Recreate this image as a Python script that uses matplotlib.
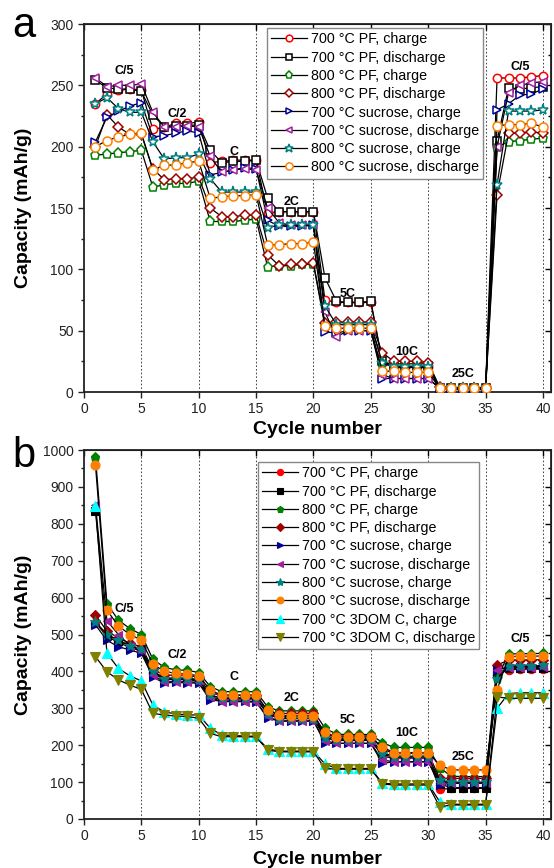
import matplotlib
matplotlib.use("Agg")
import matplotlib.pyplot as plt
from matplotlib.ticker import MultipleLocator
import numpy as np

plt.rcParams['font.family'] = ['Liberation Sans', 'DejaVu Sans']

cycles = list(range(1, 41))

# ---------------- Panel a data ----------------
a_labels = ["700 °C PF, charge", "700 °C PF, discharge", "800 °C PF, charge",
            "800 °C PF, discharge", "700 °C sucrose, charge", "700 °C sucrose, discharge",
            "800 °C sucrose, charge", "800 °C sucrose, discharge"]

a_700pf_ch = [235, 243, 246, 247, 246, 214, 216, 219, 219, 220,
              187, 188, 189, 189, 189, 146, 147, 147, 147, 147,
              75, 73, 73, 73, 73, 24, 20, 20, 20, 20,
              3, 3, 3, 3, 3, 256, 256, 256, 257, 258]
a_700pf_dis = [254, 248, 247, 247, 245, 226, 216, 217, 217, 218,
               197, 187, 188, 188, 189, 158, 147, 147, 147, 147,
               93, 74, 73, 73, 74, 25, 21, 21, 21, 21,
               3, 3, 3, 3, 3, 205, 248, 247, 248, 249]
a_800pf_ch = [193, 194, 195, 196, 197, 167, 169, 170, 170, 172,
              139, 139, 139, 140, 141, 102, 103, 103, 104, 104,
              54, 55, 55, 55, 55, 24, 23, 23, 23, 23,
              3, 3, 3, 3, 3, 200, 204, 205, 206, 207]
a_800pf_dis = [200, 226, 216, 210, 210, 182, 173, 174, 174, 175,
               150, 143, 143, 144, 144, 112, 103, 104, 104, 105,
               56, 57, 57, 57, 57, 32, 25, 25, 25, 24,
               4, 3, 3, 3, 3, 161, 211, 211, 212, 211]
a_700su_ch = [204, 224, 229, 233, 236, 208, 209, 211, 213, 211,
              177, 179, 181, 183, 182, 140, 135, 135, 135, 136,
              49, 48, 50, 50, 50, 11, 11, 11, 11, 11,
              3, 2, 2, 2, 2, 230, 235, 242, 243, 247]
a_700su_dis = [256, 249, 250, 250, 251, 228, 216, 216, 217, 216,
               192, 179, 181, 182, 181, 150, 138, 136, 136, 136,
               65, 45, 50, 50, 50, 14, 11, 11, 11, 11,
               3, 2, 2, 2, 2, 200, 244, 250, 252, 253]
a_800su_ch = [235, 240, 231, 228, 228, 204, 190, 191, 191, 194,
              174, 163, 163, 163, 163, 134, 136, 136, 136, 136,
              70, 55, 55, 55, 55, 24, 20, 20, 20, 20,
              3, 3, 3, 3, 3, 169, 229, 229, 229, 230]
a_800su_dis = [200, 205, 208, 210, 211, 181, 185, 185, 187, 188,
               158, 159, 160, 160, 161, 120, 120, 121, 121, 122,
               54, 52, 52, 52, 52, 17, 17, 16, 16, 16,
               3, 3, 3, 3, 3, 217, 218, 218, 219, 216]

# ---------------- Panel b data ----------------
b_labels = ["700 °C PF, charge", "700 °C PF, discharge", "800 °C PF, charge",
            "800 °C PF, discharge", "700 °C sucrose, charge", "700 °C sucrose, discharge",
            "800 °C sucrose, charge", "800 °C sucrose, discharge",
            "700 °C 3DOM C, charge", "700 °C 3DOM C, discharge"]

b_700pf_ch = [532, 495, 478, 465, 455, 395, 378, 378, 378, 373,
              330, 325, 325, 325, 325, 285, 275, 275, 275, 275,
              220, 215, 215, 215, 215, 170, 165, 165, 165, 165,
              80, 83, 83, 83, 83, 390, 405, 406, 406, 406]
b_700pf_dis = [835, 500, 482, 470, 460, 400, 382, 382, 382, 378,
               335, 328, 328, 328, 328, 288, 278, 278, 278, 278,
               225, 218, 218, 218, 218, 180, 170, 170, 170, 170,
               95, 85, 85, 85, 85, 395, 408, 408, 408, 408]
b_800pf_ch = [982, 583, 539, 516, 500, 433, 411, 404, 403, 397,
              359, 345, 345, 345, 345, 304, 293, 293, 293, 293,
              246, 230, 229, 229, 229, 207, 194, 194, 194, 194,
              139, 116, 115, 115, 115, 381, 447, 448, 448, 449]
b_800pf_dis = [553, 509, 491, 476, 467, 406, 390, 390, 390, 384,
               341, 336, 336, 336, 336, 293, 286, 286, 286, 286,
               228, 225, 225, 225, 225, 189, 178, 178, 178, 178,
               110, 110, 110, 110, 110, 417, 431, 431, 431, 432]
b_700su_ch = [526, 484, 467, 458, 449, 384, 369, 370, 369, 368,
              322, 320, 320, 320, 318, 273, 266, 266, 266, 266,
              205, 205, 205, 205, 205, 151, 155, 155, 155, 155,
              92, 97, 97, 97, 97, 404, 413, 413, 413, 414]
b_700su_dis = [851, 537, 500, 470, 455, 390, 372, 372, 372, 370,
               330, 318, 318, 318, 316, 278, 265, 265, 265, 265,
               212, 205, 205, 205, 205, 160, 155, 155, 155, 155,
               100, 97, 97, 97, 97, 405, 410, 410, 410, 411]
b_800su_ch = [535, 500, 485, 470, 460, 400, 380, 380, 380, 376,
              335, 328, 328, 328, 328, 285, 272, 272, 272, 272,
              220, 213, 213, 213, 213, 175, 168, 168, 168, 168,
              105, 100, 100, 100, 100, 380, 415, 415, 415, 416]
b_800su_dis = [959, 566, 523, 500, 485, 420, 400, 395, 393, 388,
               350, 335, 335, 335, 335, 295, 281, 280, 280, 280,
               235, 222, 222, 222, 222, 195, 180, 180, 180, 180,
               146, 133, 133, 133, 133, 350, 440, 441, 441, 442]
b_3dom_ch = [848, 449, 408, 388, 374, 309, 290, 285, 282, 282,
             246, 228, 226, 225, 224, 190, 184, 184, 184, 184,
             149, 137, 137, 137, 137, 97, 95, 95, 95, 95,
             47, 40, 40, 40, 40, 300, 340, 342, 342, 342]
b_3dom_dis = [440, 399, 377, 363, 351, 286, 282, 279, 278, 273,
              232, 223, 223, 223, 222, 187, 182, 182, 182, 182,
              137, 135, 135, 135, 135, 95, 92, 92, 92, 92,
              33, 38, 38, 38, 38, 331, 327, 327, 327, 327]

rate_labels = ["C/5", "C/2", "C", "2C", "5C", "10C", "25C", "C/5"]
rate_x = [3.5, 8.1, 13.1, 18.1, 23.0, 28.1, 33.0, 38.0]
rate_y_a = [262, 227, 196, 155, 80, 33, 15, 265]
rate_y_b = [569, 444, 385, 328, 267, 233, 168, 488]

colors = ['#FF0000', '#000000', '#008000', '#A00000', '#000099', '#A020A0',
          '#008080', '#FF8000', '#00FFFF', '#808000']
markers = ['o', 's', 'p', 'D', '>', '<', '*', 'o', '^', 'v']
msizes = [6, 5.5, 6.5, 5, 6, 6, 8, 6.5, 7, 7]

W, H = 554, 868
fig = plt.figure(figsize=(W / 100, H / 100), dpi=100)

def style_axes(ax, ymax, ymajor, yminor):
    ax.set_xlim(0, 40.7)
    ax.set_ylim(0, ymax)
    ax.xaxis.set_major_locator(MultipleLocator(5))
    ax.yaxis.set_major_locator(MultipleLocator(ymajor))
    ax.yaxis.set_minor_locator(MultipleLocator(yminor))
    ax.tick_params(axis='both', which='both', direction='out', labelsize=10,
                   top=False, right=False, width=1.0, colors='#222222', labelcolor='#222222')
    ax.tick_params(which='major', length=4)
    ax.tick_params(which='minor', length=2.5)
    for s in ax.spines.values():
        s.set_linewidth(1.3)
        s.set_color('#222222')
    sx = ax.secondary_xaxis('top')
    sx.xaxis.set_major_locator(MultipleLocator(5))
    sx.tick_params(direction='in', length=4, labeltop=False, width=1.0)
    sy = ax.secondary_yaxis('right')
    sy.yaxis.set_major_locator(MultipleLocator(ymajor))
    sy.yaxis.set_minor_locator(MultipleLocator(yminor))
    sy.tick_params(which='both', direction='in', labelright=False, width=1.0)
    sy.tick_params(which='major', length=4)
    sy.tick_params(which='minor', length=2.5)
    for xv in range(5, 41, 5):
        ax.axvline(xv, color='#444444', linestyle=(0, (1.5, 2)), linewidth=0.75, zorder=0)
    ax.set_xlabel("Cycle number", fontsize=14, fontweight='bold')
    ax.set_ylabel("Capacity (mAh/g)", fontsize=14, fontweight='bold')

# ---------- Panel a ----------
axa = fig.add_axes([84 / W, 1 - 392 / H, 467 / W, 368 / H])
style_axes(axa, 300, 50, 25)
a_series = [a_700pf_ch, a_700pf_dis, a_800pf_ch, a_800pf_dis,
            a_700su_ch, a_700su_dis, a_800su_ch, a_800su_dis]
for i, (ys, lab) in enumerate(zip(a_series, a_labels)):
    axa.plot(cycles, ys, color='black', linewidth=0.9, marker=markers[i],
             markersize=msizes[i], markerfacecolor='white', markeredgecolor=colors[i],
             markeredgewidth=1.1, label=lab, zorder=2 + i)
for t, xv, yv in zip(rate_labels, rate_x, rate_y_a):
    axa.text(xv, yv, t, fontsize=9, fontweight='bold', ha='center', va='center', zorder=20)
leg = axa.legend(loc='upper left', bbox_to_anchor=(0.392, 0.989), borderaxespad=0,
                 fontsize=10.3, frameon=True, fancybox=False, edgecolor='#888888',
                 framealpha=1, handlelength=2.5, handletextpad=0.25, labelspacing=0.3,
                 borderpad=0.3, markerscale=0.8)
leg.get_frame().set_linewidth(1.0)
leg.set_zorder(30)
axa.yaxis.set_label_coords(-0.111, 0.5)
axa.xaxis.set_label_coords(0.5, -0.079)
fig.text(12 / W, 1 - 37 / H, "a", fontsize=30, ha='left', va='baseline')

# ---------- Panel b ----------
axb = fig.add_axes([84 / W, 1 - 819 / H, 467 / W, 369 / H])
style_axes(axb, 1000, 100, 50)
b_series = [b_700pf_ch, b_700pf_dis, b_800pf_ch, b_800pf_dis, b_700su_ch,
            b_700su_dis, b_800su_ch, b_800su_dis, b_3dom_ch, b_3dom_dis]
for i, (ys, lab) in enumerate(zip(b_series, b_labels)):
    axb.plot(cycles, ys, color='black', linewidth=0.9, marker=markers[i],
             markersize=msizes[i], markerfacecolor=colors[i], markeredgecolor=colors[i],
             markeredgewidth=0.8, label=lab, zorder=2 + i)
for t, xv, yv in zip(rate_labels, rate_x, rate_y_b):
    axb.text(xv, yv, t, fontsize=9, fontweight='bold', ha='center', va='center', zorder=20)
legb = axb.legend(loc='upper left', bbox_to_anchor=(0.3726, 0.9675), borderaxespad=0,
                  fontsize=10.3, frameon=True, fancybox=False, edgecolor='#888888',
                  framealpha=1, handlelength=2.5, handletextpad=0.25, labelspacing=0.3,
                  borderpad=0.3, markerscale=0.75)
legb.get_frame().set_linewidth(1.0)
legb.set_zorder(30)
axb.yaxis.set_label_coords(-0.111, 0.5)
axb.xaxis.set_label_coords(0.5, -0.087)
fig.text(12 / W, 1 - 467 / H, "b", fontsize=30, ha='left', va='baseline')

fig.savefig("out.png", dpi=100)
